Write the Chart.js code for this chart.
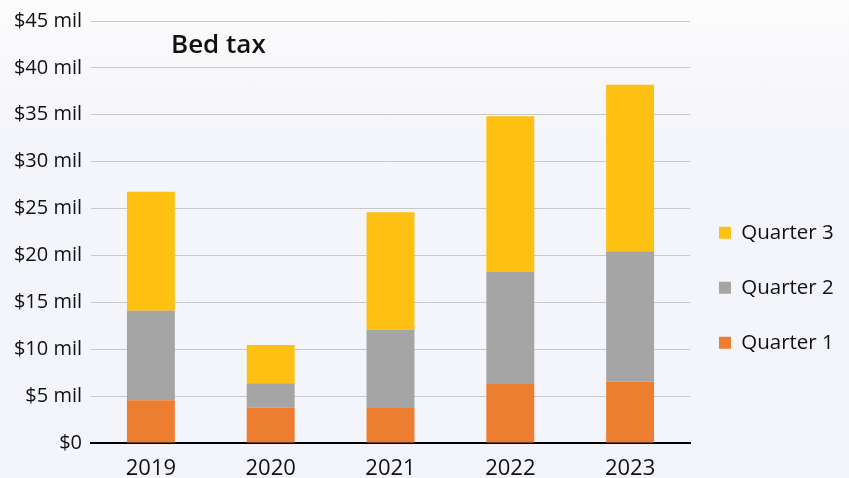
<!DOCTYPE html>
<html>
<head>
<meta charset="utf-8">
<script src="https://cdn.jsdelivr.net/npm/chart.js@4"></script>
<style>
  html, body { margin: 0; padding: 0; }
  body { width: 849px; height: 478px; background: linear-gradient(#fcfbfc, #f4f5fa 30%, #f4f5fa); overflow: hidden; }
  #wrap { position: relative; width: 849px; height: 478px; }
  #title { position: absolute; left: 171px; top: 30px; font: 600 26px/1 "Open Sans", sans-serif; color: #111; }
</style>
</head>
<body>
<div id="wrap">
  <canvas id="myChart" width="849" height="478"></canvas>
  <div id="title">Bed tax</div>
</div>
<script>
var years = ['2019', '2020', '2021', '2022', '2023'];
var quarter1 = [4.57, 3.79, 3.72, 6.28, 6.52];
var quarter2 = [9.53, 2.59, 8.37, 11.98, 13.94];
var quarter3 = [12.7, 4.08, 12.51, 16.59, 17.73];
var yTicks = [0, 5, 10, 15, 20, 25, 30, 35, 40, 45];

// legend box: fixed width, then moved to where the reference has it
var legendPlace = {
    id: 'legendPlace',
    beforeInit: function (chart) {
        var fit = chart.legend.fit;
        chart.legend.fit = function () {
            fit.call(this);
            this.width = 159;
        };
    },
    afterLayout: function (chart) {
        var lg = chart.legend;
        lg.left = 684.5;
        lg.right = 849;
        lg.top = 188;
        lg.bottom = 478;
    }
};

document.addEventListener('DOMContentLoaded', function () {
    var ctx = document.getElementById('myChart').getContext('2d');
    var myChart = new Chart(ctx, {
        type: 'bar',
        data: {
            labels: years,
            datasets: [
                { label: 'Quarter 1', data: quarter1, backgroundColor: '#ed7d31' },
                { label: 'Quarter 2', data: quarter2, backgroundColor: '#a5a5a5' },
                { label: 'Quarter 3', data: quarter3, backgroundColor: '#fec013' }
            ]
        },
        options: {
            responsive: false,
            animation: false,
            layout: { padding: { top: 20, right: 0, left: 0, bottom: 0 } },
            datasets: { bar: { barPercentage: 0.4, categoryPercentage: 1 } },
            plugins: {
                legend: {
                    position: 'right',
                    align: 'start',
                    reverse: true,
                    labels: {
                        boxWidth: 12,
                        boxHeight: 12,
                        padding: 34.5,
                        color: '#111',
                        font: { family: 'Open Sans', size: 20.5 }
                    }
                },
                tooltip: { enabled: false }
            },
            scales: {
                x: {
                    stacked: true,
                    afterFit: function (axis) { axis.height = 35; },
                    grid: { display: false, drawTicks: false },
                    border: { color: '#000', width: 2 },
                    ticks: { color: '#111', padding: 13, font: { family: 'Open Sans', size: 22 } }
                },
                y: {
                    stacked: true,
                    min: 0,
                    max: 45,
                    afterFit: function (axis) { axis.width = 91; },
                    afterBuildTicks: function (axis) {
                        axis.ticks = yTicks.map(function (v) { return { value: v }; });
                    },
                    grid: { color: '#c8c8cc', lineWidth: 1, drawTicks: false },
                    border: { display: false },
                    ticks: {
                        color: '#111',
                        padding: 9,
                        font: { family: 'Open Sans', size: 20 },
                        callback: function (v) { return v === 0 ? '$0' : '$' + v + ' mil'; }
                    }
                }
            }
        },
        plugins: [legendPlace]
    });
});
</script>
</body>
</html>
